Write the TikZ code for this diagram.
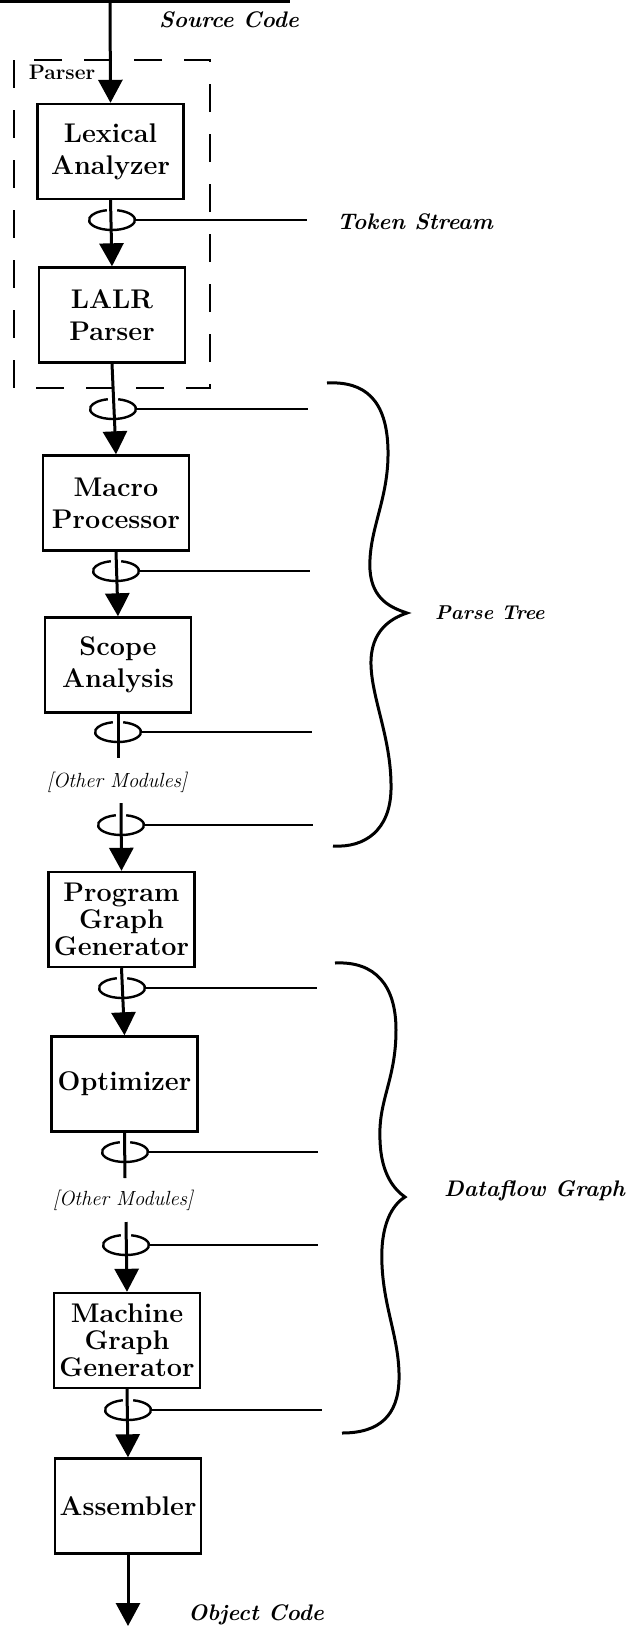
\documentclass[tikz,border=0pt]{standalone}
\usetikzlibrary{arrows.meta,shapes.geometric,calc}
\begin{document}
\begin{tikzpicture}[x=1pt,y=-1pt,
  box/.style={draw,line width=2.4pt,minimum width=146pt,minimum height=95pt,inner sep=0pt,align=center,font=\fontsize{27}{32}\selectfont\bfseries},
  box3/.style={box,font=\fontsize{27}{27}\selectfont\bfseries},
  flow/.style={line width=3pt,-{Triangle[width=24pt,length=23pt]}},
  plain/.style={line width=3pt},
  link/.style={line width=2.4pt},
  ringnode/.style={ellipse,minimum width=46pt,minimum height=20pt,inner sep=0pt,draw=none},
  ringline/.style={line width=2.4pt},
  lbl/.style={anchor=west,inner sep=0pt,font=\fontsize{22.5}{26}\selectfont\bfseries\itshape},
  other/.style={inner sep=0pt,font=\fontsize{20.5}{24}\selectfont\itshape},
  bracestyle/.style={line width=3pt},
  dashbox/.style={line width=2.2pt,dash pattern=on 28pt off 22pt}]
\useasboundingbox (0,0) rectangle (629,1631);

\newcommand\myring[4]{%
  \node[ringnode] (#1) at (#2,#3) {};
  \coordinate (#1end) at (#4,#3);
  \draw[link] (#1.east) -- (#1end);
  \draw[ringline] ([shift={(283:23 and 10)}]#1.center) arc[start angle=283,end angle=617,x radius=23,y radius=10];
}

% top rule
\draw[line width=3pt] (0,1.5) -- (290,1.5);

% dashed parser box
\draw[dashbox] (14,60) rectangle (210,388);
\node[inner sep=0pt,font=\fontsize{21}{24}\selectfont\bfseries] (parserlbl) at (62,72) {Parser};

% boxes
\node[box] (lex) at (110.5,151.5) {Lexical\\Analyzer};
\node[box] (lalr) at (112,315) {LALR\\Parser};
\node[box] (macro) at (116,503) {Macro\\Processor};
\node[box] (scope) at (118,665) {Scope\\Analysis};
\node[box3] (prog) at (121.5,919.5) {Program\\Graph\\Generator};
\node[box] (opt) at (124.5,1084) {Optimizer};
\node[box3] (mach) at (127,1340.5) {Machine\\Graph\\Generator};
\node[box] (asm) at (128,1506) {Assembler};

% free ends
\coordinate (src) at (110,0);
\coordinate (stubA) at (118,758);
\coordinate (stubB) at (121,803);
\coordinate (stubC) at (125,1178);
\coordinate (stubD) at (126,1222);
\coordinate (out) at (128,1626);

% vertical connectors
\draw[flow] (src) -- (lex.north);
\draw[flow] (lex.south) -- (lalr.north);
\draw[flow] (lalr.south) -- (macro.north);
\draw[flow] (macro.south) -- (scope.north);
\draw[plain] (scope.south) -- (stubA);
\draw[flow] (stubB) -- (prog.north);
\draw[flow] (prog.south) -- (opt.north);
\draw[plain] (opt.south) -- (stubC);
\draw[flow] (stubD) -- (mach.north);
\draw[flow] (mach.south) -- (asm.north);
\draw[flow] (asm.south) -- (out);

% rings with taps
\myring{ra}{112}{220}{307}
\myring{rb}{113}{409}{308}
\myring{rc}{116}{571}{310}
\myring{rd}{118}{732}{312}
\myring{re}{121}{825}{313}
\myring{rf}{122}{988}{317}
\myring{rg}{125}{1152}{318}
\myring{rh}{126}{1245}{318}
\myring{ri}{128}{1410}{322}

% other modules
\node[other] (omA) at (117,782) {[Other Modules]};
\node[other] (omB) at (123,1200) {[Other Modules]};

% braces
\draw[bracestyle] (327,383) .. controls (365,381) and (387,400) .. (388,450)
  .. controls (389,500) and (368,530) .. (370,570)
  .. controls (372,600) and (392,608) .. (407,613)
  .. controls (392,618) and (370,630) .. (371,665)
  .. controls (372,700) and (392,740) .. (391,790)
  .. controls (390,830) and (365,848) .. (333,846);
\draw[bracestyle] (335,963) .. controls (375,961) and (396,985) .. (396,1030)
  .. controls (396,1080) and (378,1100) .. (380,1140)
  .. controls (381,1175) and (395,1190) .. (405,1197)
  .. controls (392,1205) and (380,1225) .. (382,1265)
  .. controls (384,1310) and (400,1340) .. (399,1380)
  .. controls (398,1415) and (380,1433) .. (342,1433);

% labels
\node[lbl] (srcl) at (159,20) {Source Code};
\node[lbl] (tok) at (337,222) {Token Stream};
\node[lbl,font=\fontsize{20}{24}\selectfont\bfseries\itshape] (ptree) at (435,613) {Parse Tree};
\node[lbl] (dfg) at (444,1191) {Dataflow Graph};
\node[lbl] (objl) at (188,1615) {Object Code};
\end{tikzpicture}
\end{document}
